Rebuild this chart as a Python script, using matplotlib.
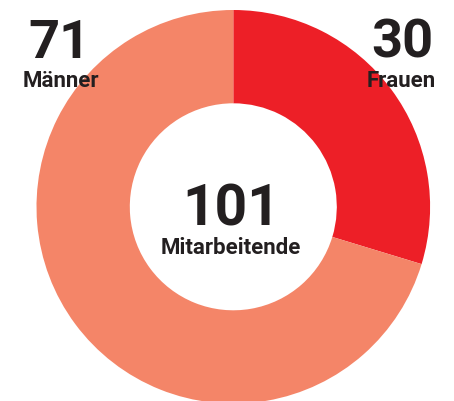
import matplotlib
matplotlib.use("Agg")
import matplotlib.pyplot as plt

categories = ["Frauen", "Männer"]
values = [30, 71]
colors = ["#ED1F27", "#F48568"]
total_label = "Mitarbeitende"

W, H = 454, 401
fig = plt.figure(figsize=(W / 100, H / 100), dpi=100)
ax = fig.add_axes([0, 0, 1, 1])

cx, cy, r_out, r_in = 233.3, 206.8, 196.8, 103.5
# y axis is inverted below, so angles are mirrored: start at -90, go counterclockwise
ax.pie(values, colors=colors, startangle=-90, counterclock=True,
       center=(cx, cy), radius=r_out,
       wedgeprops=dict(width=r_out - r_in, linewidth=0), frame=True)
ax.set_xlim(0, W)
ax.set_ylim(H, 0)
ax.axis("off")

txt = "#231F20"
font = "Roboto"
big = 39
small = 16
ax.text(59, 58, str(values[1]), ha="center", va="baseline", fontsize=big,
        fontweight="bold", color=txt, family=font)
ax.text(61, 87, categories[1], ha="center", va="baseline", fontsize=small,
        fontweight="bold", color=txt, family=font)
ax.text(402, 58, str(values[0]), ha="center", va="baseline", fontsize=big,
        fontweight="bold", color=txt, family=font)
ax.text(401, 87, categories[0], ha="center", va="baseline", fontsize=small,
        fontweight="bold", color=txt, family=font)
ax.text(231, 225, str(sum(values)), ha="center", va="baseline", fontsize=41,
        fontweight="bold", color=txt, family=font)
ax.text(231, 254, total_label, ha="center", va="baseline", fontsize=small,
        fontweight="bold", color=txt, family=font)

fig.savefig("out.png", dpi=100)
